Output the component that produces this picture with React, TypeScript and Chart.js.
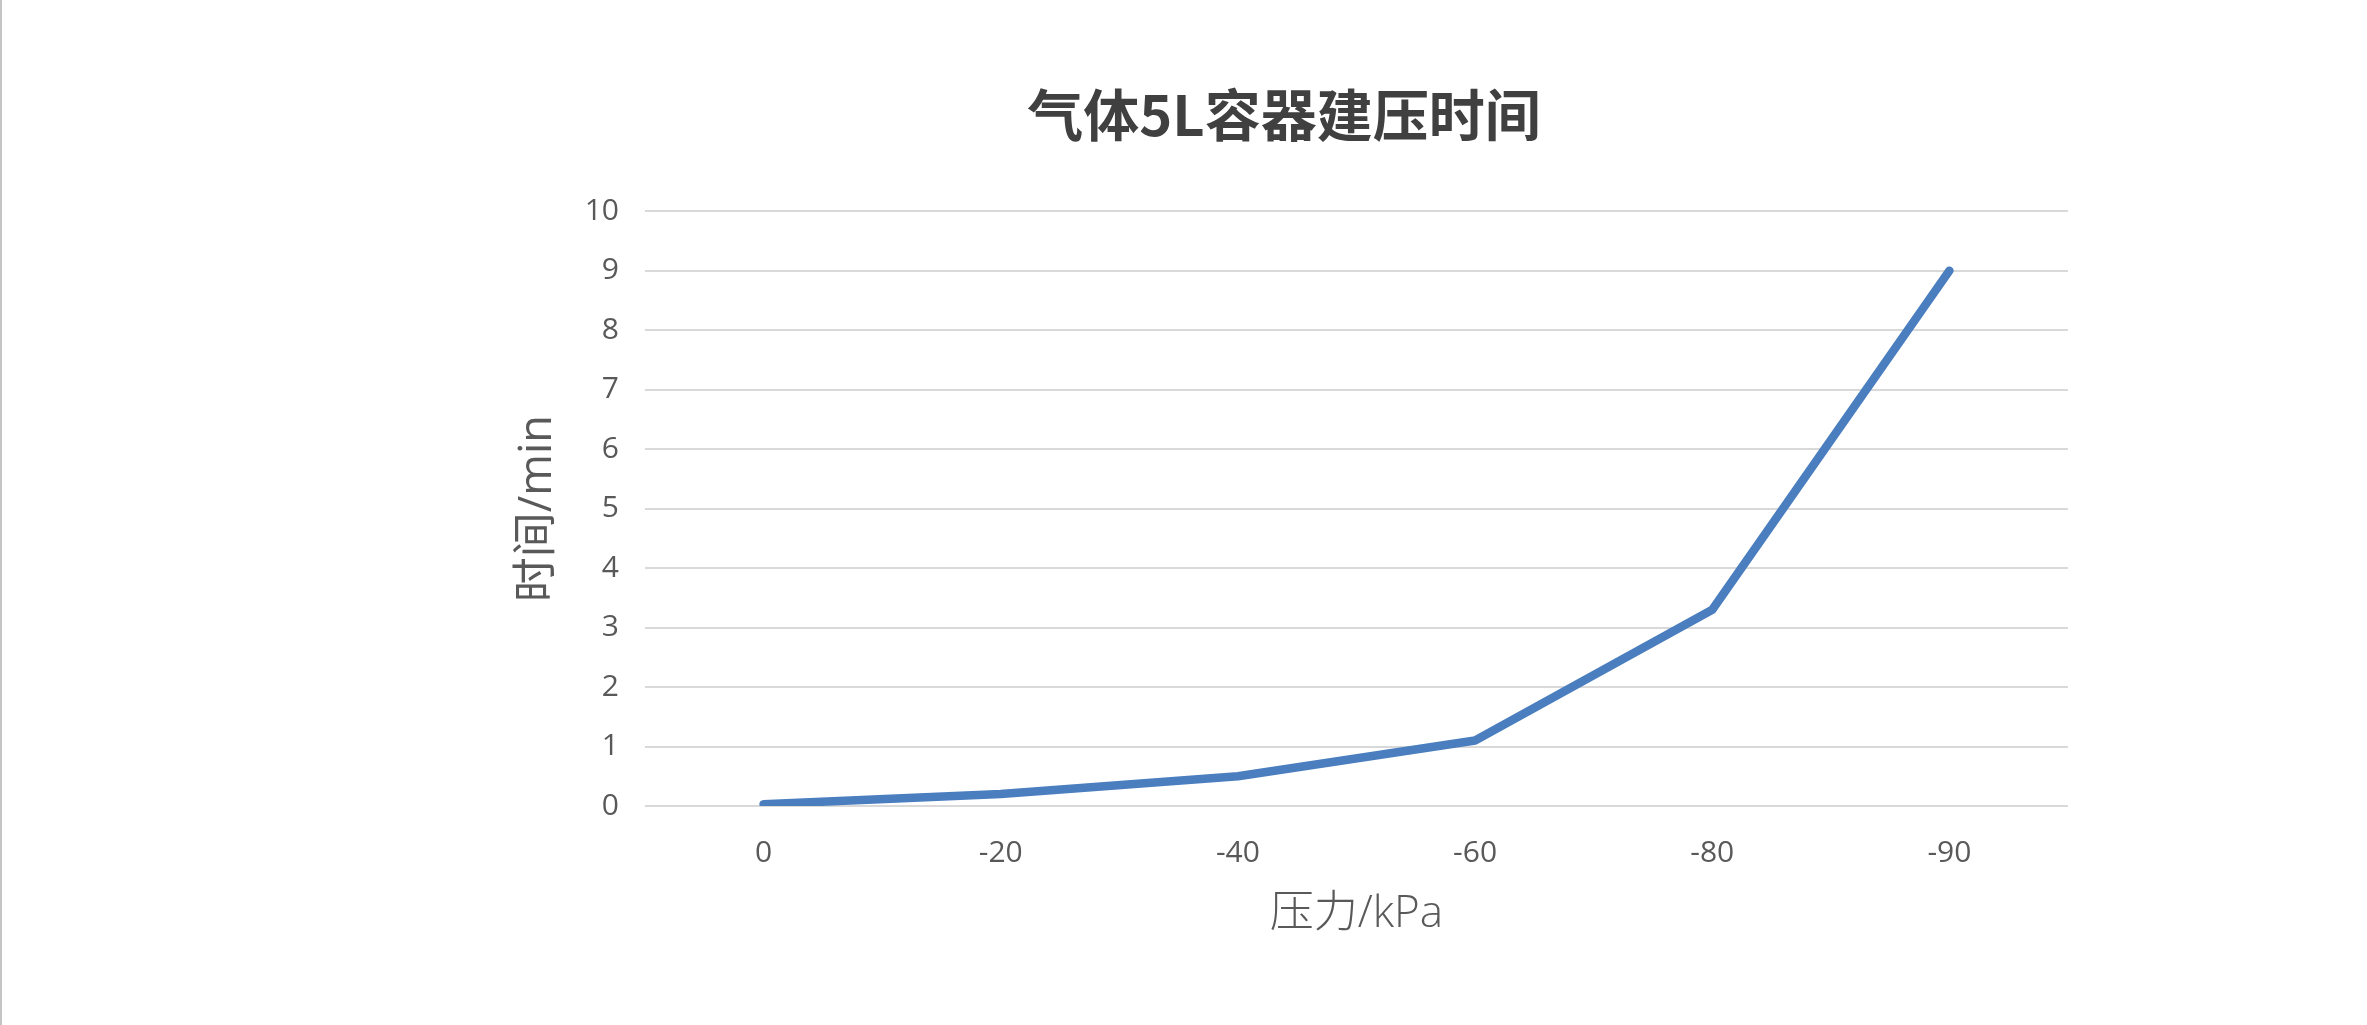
import { Chart, registerables } from "chart.js";
import type { ChartConfiguration, Plugin as ChartPlugin, Scale } from "chart.js";
import { useEffect, useRef } from "react";

Chart.register(...registerables);

const chartTitle = "气体5L容器建压时间";
const xAxisLabel = "压力/kPa";
const yAxisLabel = "时间/min";
const pressureLabels = ["0", "-20", "-40", "-60", "-80", "-90"];
const buildTimes = [0.03, 0.2, 0.5, 1.1, 3.3, 9.0];

const pageBackgroundPlugin: ChartPlugin = {
    id: 'pageBackgroundPlugin',
    beforeDraw: (chart: Chart) => {
        const ctx = chart.ctx;
        ctx.save();
        ctx.fillStyle = '#ffffff';
        ctx.fillRect(0, 0, chart.width, chart.height);
        // thin grey edge on the left side of the picture
        ctx.fillStyle = '#c4c4c4';
        ctx.fillRect(0, 0, 2, chart.height);
        ctx.restore();
    }
};

function getConfig(): ChartConfiguration {
    return {
        type: 'line',
        data: {
            labels: pressureLabels,
            datasets: [{
                label: yAxisLabel,
                data: buildTimes,
                borderColor: '#4a7ebf',
                backgroundColor: '#4a7ebf',
                borderWidth: 8.5,
                borderCapStyle: 'round',
                borderJoinStyle: 'round',
                pointRadius: 0,
                tension: 0,
                fill: false
            }]
        },
        options: {
            animation: false,
            responsive: true,
            maintainAspectRatio: false,
            devicePixelRatio: 1,
            layout: {
                padding: { left: 500, right: 299, top: 0, bottom: 89 }
            },
            scales: {
                x: {
                    type: 'category',
                    offset: true,
                    grid: { display: false },
                    border: { display: false },
                    ticks: {
                        padding: 21,
                        color: '#595959',
                        font: { family: '"Open Sans", "Noto Sans CJK SC", sans-serif', size: 30 }
                    },
                    title: {
                        display: true,
                        text: xAxisLabel,
                        color: '#595959',
                        padding: { top: 0, bottom: 0 },
                        font: { family: '"Open Sans", "Noto Sans CJK SC", sans-serif', size: 44, weight: 300, lineHeight: 1.0 }
                    }
                },
                y: {
                    type: 'linear',
                    min: 0,
                    max: 10,
                    afterFit: function (scale: Scale) {
                        scale.width = 145;
                    },
                    grid: {
                        color: '#d9d9d9',
                        lineWidth: 2,
                        drawTicks: false
                    },
                    border: { display: false },
                    ticks: {
                        stepSize: 1,
                        padding: 26,
                        color: '#595959',
                        font: { family: '"Open Sans", "Noto Sans CJK SC", sans-serif', size: 30 }
                    },
                    title: {
                        display: true,
                        text: yAxisLabel,
                        color: '#595959',
                        padding: { top: 11, bottom: 0 },
                        font: { family: '"Open Sans", "Noto Sans CJK SC", sans-serif', size: 45 }
                    }
                }
            },
            plugins: {
                title: {
                    display: true,
                    text: chartTitle,
                    color: '#404040',
                    padding: { top: 81, bottom: 63 },
                    font: { family: '"Noto Sans CJK SC", "Open Sans", sans-serif', size: 56, weight: 'bold' }
                },
                legend: { display: false },
                tooltip: { enabled: false }
            }
        },
        plugins: [pageBackgroundPlugin]
    };
}

export default function App() {
    const canvasRef = useRef<HTMLCanvasElement>(null);

    useEffect(() => {
        if (!canvasRef.current) {
            return;
        }
        const chart = new Chart(canvasRef.current, getConfig());
        return () => {
            chart.destroy();
        };
    }, []);

    return (
        <div style={{ position: 'absolute', left: 0, top: 0, width: 2367, height: 1025, background: '#ffffff' }}>
            <canvas ref={canvasRef} />
        </div>
    );
}
